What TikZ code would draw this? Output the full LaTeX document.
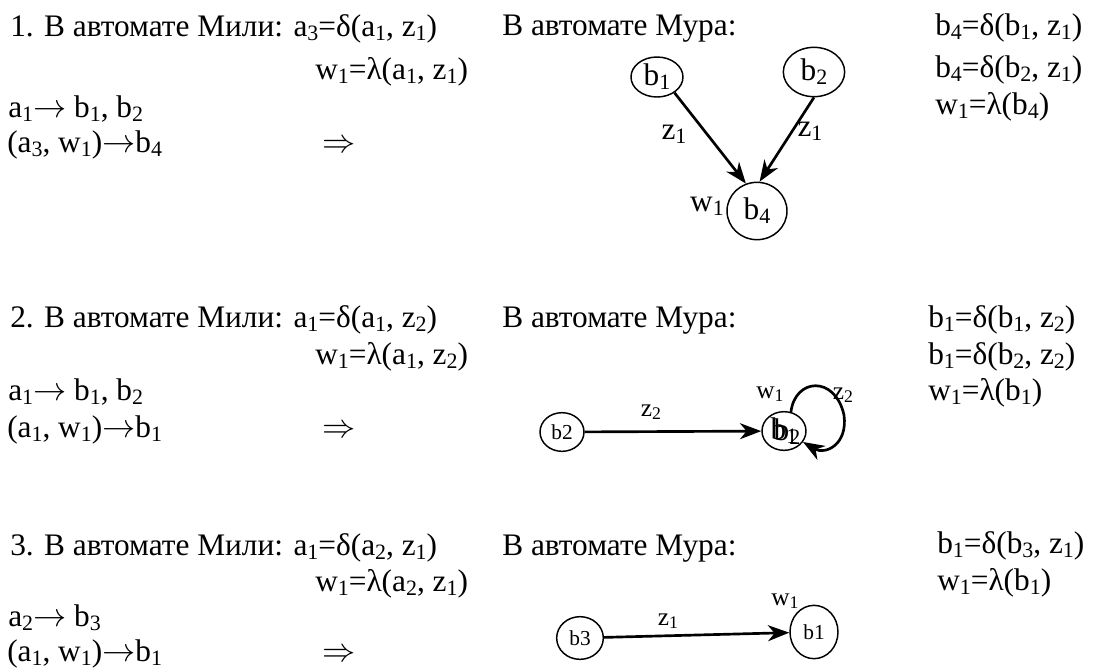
\documentclass[tikz,border=0pt]{standalone}
\usepackage{fontspec}
\setmainfont{Liberation Serif}
\usetikzlibrary{arrows.meta,shapes.geometric}
\newcommand{\idx}[1]{\raisebox{-0.13em}{\scalebox{0.7}{#1}}}
\newcommand{\tto}{\(\rightarrow\)}

\begin{document}
\begin{tikzpicture}[x=0.75pt,y=-0.75pt,>={Stealth[length=16pt,width=12pt,inset=5pt]},
		txt/.style={anchor=base west,inner sep=0pt,font=\fontsize{23.5}{27}\selectfont},
		state/.style={draw,ellipse,line width=1.1pt,inner sep=0pt,font=\fontsize{23.5}{27}\selectfont},
		small/.style={draw,ellipse,line width=1.1pt,inner sep=0pt,font=\fontsize{16}{19}\selectfont},
		lbl/.style={inner sep=0pt,font=\fontsize{23.5}{27}\selectfont},
		slbl/.style={inner sep=0pt,font=\fontsize{19}{23}\selectfont},
		trans/.style={->,line width=2pt}]
		\useasboundingbox (0,0) rectangle (1093,669);

		\node[txt] (m1l1) at (10,36) {1. В автомате Мили: a\idx{3}=δ(a\idx{1}, z\idx{1})};
		\node[txt] (m1l2) at (315,79) {w\idx{1}=λ(a\idx{1}, z\idx{1})};
		\node[txt] (m1l3) at (8,117) {a\idx{1}\tto{} b\idx{1}, b\idx{2}};
		\node[txt] (m1l4) at (7,152) {(a\idx{3}, w\idx{1})\tto{}b\idx{4}};
		\node[txt] (m1imp) at (322,152) {$\Rightarrow$};
		\node[txt] (m1moore) at (502,35) {В автомате Мура:};
		\node[txt] (m1r1) at (935,35) {b\idx{4}=δ(b\idx{1}, z\idx{1})};
		\node[txt] (m1r2) at (935,77) {b\idx{4}=δ(b\idx{2}, z\idx{1})};
		\node[txt] (m1r3) at (935,114) {w\idx{1}=λ(b\idx{4})};

		\node[state,minimum width=39pt,minimum height=30pt] (m1b1) at (657,77) {b\idx{1}};
		\node[state,minimum width=46pt,minimum height=37pt] (m1b2) at (814,72) {b\idx{2}};
		\node[state,minimum width=45pt,minimum height=43pt] (m1b4) at (757,211) {b\idx{4}};
		\draw[trans] (m1b1.-42) -- (m1b4.112);
		\draw[trans] (m1b2.south) -- (m1b4.85);
		\node[lbl] (m1z1) at (674,134) {z\idx{1}};
		\node[lbl] (m1z2) at (810,131) {z\idx{1}};
		\node[lbl] (m1w) at (707,206) {w\idx{1}};

		\node[txt] (m2l1) at (10,327) {2. В автомате Мили: a\idx{1}=δ(a\idx{1}, z\idx{2})};
		\node[txt] (m2l2) at (315,364) {w\idx{1}=λ(a\idx{1}, z\idx{2})};
		\node[txt] (m2l3) at (8,400) {a\idx{1}\tto{} b\idx{1}, b\idx{2}};
		\node[txt] (m2l4) at (7,437) {(a\idx{1}, w\idx{1})\tto{}b\idx{1}};
		\node[txt] (m2imp) at (322,437) {$\Rightarrow$};
		\node[txt] (m2moore) at (502,327) {В автомате Мура:};
		\node[txt] (m2r1) at (928,327) {b\idx{1}=δ(b\idx{1}, z\idx{2})};
		\node[txt] (m2r2) at (928,364) {b\idx{1}=δ(b\idx{2}, z\idx{2})};
		\node[txt] (m2r3) at (928,400) {w\idx{1}=λ(b\idx{1})};

		\node[small,minimum width=33pt,minimum height=29pt] (m2b2) at (562,432) {b2};
		\node[state,minimum width=33pt,minimum height=29pt] (m2b1) at (784,431) {b\idx{1}};
		\node[lbl] (m2ghost) at ([shift={(3,1)}]m2b1.center) {b\idx{2}};
		\draw[trans] (m2b2) -- (m2b1);
		\draw[trans] (m2b1.70) .. controls (795,378) and (835,375) .. (844,415)
			.. controls (848,445) and (825,455) .. (m2b1.-30);
		\node[slbl] (m2z1) at (651,412) {z\idx{2}};
		\node[slbl] (m2w) at (770,394) {w\idx{1}};
		\node[slbl] (m2z2) at (843,395) {z\idx{2}};

		\node[txt] (m3l1) at (10,555) {3. В автомате Мили: a\idx{1}=δ(a\idx{2}, z\idx{1})};
		\node[txt] (m3l2) at (315,591) {w\idx{1}=λ(a\idx{2}, z\idx{1})};
		\node[txt] (m3l3) at (8,626) {a\idx{2}\tto{} b\idx{3}};
		\node[txt] (m3l4) at (7,661) {(a\idx{1}, w\idx{1})\tto{}b\idx{1}};
		\node[txt] (m3imp) at (322,661) {$\Rightarrow$};
		\node[txt] (m3moore) at (502,555) {В автомате Мура:};
		\node[txt] (m3r1) at (937,553) {b\idx{1}=δ(b\idx{3}, z\idx{1})};
		\node[txt] (m3r2) at (937,590) {w\idx{1}=λ(b\idx{1})};

		\node[small,minimum width=35pt,minimum height=32pt] (m3b3) at (580,638) {b3};
		\node[small,minimum width=36pt,minimum height=40pt] (m3b1) at (814,632) {b1};
		\draw[trans] (m3b3) -- (m3b1);
		\node[slbl] (m3z1) at (668,621) {z\idx{1}};
		\node[slbl] (m3w) at (785,601) {w\idx{1}};
	\end{tikzpicture}
\end{document}
